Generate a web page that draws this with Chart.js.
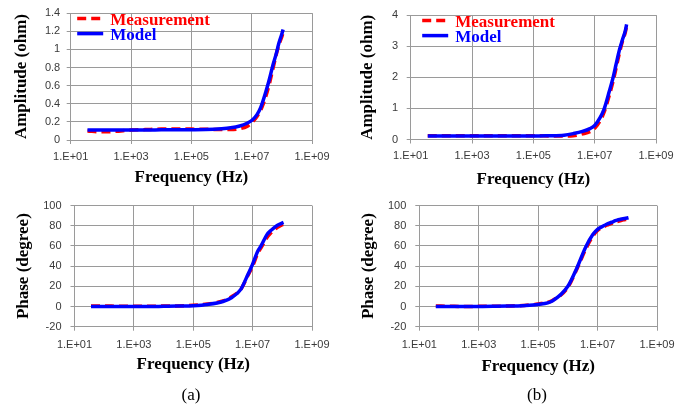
<!DOCTYPE html>
<html><head><meta charset="utf-8">
<script src="https://cdn.jsdelivr.net/npm/chart.js@4/dist/chart.umd.min.js"></script>
<style>
html,body{margin:0;padding:0;background:#fff;}
body{width:686px;height:408px;position:relative;overflow:hidden;}
canvas{position:absolute;display:block;}
.lab{position:absolute;font-family:'Liberation Serif','Times New Roman',serif;font-size:17px;color:#000;transform:translate(-50%,-50%);white-space:nowrap;}
</style></head><body>
<canvas id="c1" width="343" height="190" style="left:0;top:0;width:343px;height:190px"></canvas>
<canvas id="c2" width="343" height="190" style="left:343px;top:0;width:343px;height:190px"></canvas>
<canvas id="c3" width="343" height="218" style="left:0;top:190px;width:343px;height:218px"></canvas>
<canvas id="c4" width="343" height="218" style="left:343px;top:190px;width:343px;height:218px"></canvas>
<div class="lab" style="left:191px;top:395px">(a)</div>
<div class="lab" style="left:537px;top:395px">(b)</div>
<script>
// ---- data ----
const freq = [36,100,300,1e3,3e3,1e4,3e4,1e5,3e5,1e6,2e6,4e6,7e6,1e7,1.5e7,2e7,3e7,4e7,5e7,6.5e7,8e7,1e8,1.1e8];

const ampMeasA  = [0.10,0.09,0.095,0.11,0.115,0.12,0.12,0.12,0.118,0.115,0.115,0.125,0.15,0.19,0.26,0.33,0.49,0.64,0.78,0.94,1.05,1.14,1.19];
const ampModelA = [0.11,0.11,0.11,0.11,0.11,0.112,0.113,0.114,0.116,0.125,0.135,0.155,0.185,0.215,0.28,0.36,0.54,0.69,0.82,0.95,1.07,1.17,1.22];
const ampMeasB  = [0.12,0.12,0.12,0.12,0.12,0.12,0.12,0.12,0.115,0.11,0.12,0.18,0.25,0.36,0.6,0.86,1.42,1.88,2.3,2.8,3.15,3.45,3.65];
const ampModelB = [0.11,0.11,0.11,0.11,0.11,0.11,0.11,0.11,0.12,0.14,0.19,0.26,0.35,0.45,0.7,0.96,1.55,2.0,2.42,2.9,3.2,3.5,3.7];

const phaseMeasA  = [0.5,0.5,0.3,0.3,0.3,0.5,0.6,1.2,2.5,5.5,10,17,31,40,53,59,68,72.5,75,78,79.5,81,81.5];
const phaseModelA = [0,0,0,0,0,0.2,0.4,0.8,2,5,9,17,32,42,55,61,71,75,77.5,80,81.5,82.8,83.3];
const phaseMeasB  = [0.5,0.3,0,0.2,0.3,0.5,1,2.5,6,19,37,57,70,75.5,78.5,80.5,82.5,84,84.5,85.5,86,86.5,87];
const phaseModelB = [0,0,0,0.1,0.2,0.4,0.8,2,5.5,20,38,59,71.5,76.5,79.5,81.5,83.5,85,86,86.8,87.3,87.7,88];

const seriesNames = ['Measurement','Model'];

const xTickValues = [1e1,1e3,1e5,1e7,1e9];
const xTickLabels = ['1.E+01','1.E+03','1.E+05','1.E+07','1.E+09'];
const ampTicksA = [0,0.2,0.4,0.6,0.8,1,1.2,1.4];
const ampLabelsA = ['0','0.2','0.4','0.6','0.8','1','1.2','1.4'];
const ampTicksB = [0,1,2,3,4];
const ampLabelsB = ['0','1','2','3','4'];
const phaseTicks = [-20,0,20,40,60,80,100];
const phaseLabels = ['-20','0','20','40','60','80','100'];

const xTitle = 'Frequency (Hz)';
const ampTitle = 'Amplitude (ohm)';
const phaseTitle = 'Phase (degree)';

// ---- styling ----
const SERIF = "'Liberation Serif','Times New Roman',serif";
const GRID = '#9a9a9a';
const TICKCOL = '#3a3a3a';

const inlineLegend = {
  id: 'inlineLegend',
  afterDraw(chart, args, opts) {
    if (!opts || !opts.show) return;
    const ctx = chart.ctx, a = chart.chartArea;
    ctx.save();
    ctx.font = 'bold 17px ' + SERIF;
    ctx.textBaseline = 'middle';
    ctx.textAlign = 'left';
    chart.data.datasets.forEach((ds, i) => {
      const y = a.top + opts.top + i * opts.rowGap;
      const x = a.left + opts.left;
      ctx.strokeStyle = ds.borderColor;
      ctx.lineWidth = ds.borderWidth;
      ctx.setLineDash(ds.borderDash || []);
      ctx.beginPath(); ctx.moveTo(x, y); ctx.lineTo(x + opts.lineW, y); ctx.stroke();
      ctx.setLineDash([]);
      ctx.fillStyle = ds.borderColor;
      ctx.fillText(ds.label, x + opts.lineW + opts.gap, y + opts.textDy);
    });
    ctx.restore();
  }
};

function pts(vals){ return freq.map((f,i)=>({x:f, y:vals[i]})); }

function makeChart(id, meas, model, yTicks, yLabels, yTitle, L) {
  const canvas = document.getElementById(id);
  return new Chart(canvas, {
    type: 'line',
    data: {
      datasets: [
        { label: seriesNames[0], data: pts(meas), borderColor: '#ff0000', borderWidth: 3.5, borderDash: [9,5],
          pointRadius: 0, cubicInterpolationMode: 'monotone', order: 1, fill: false },
        { label: seriesNames[1], data: pts(model), borderColor: '#0000ff', borderWidth: 3.5,
          pointRadius: 0, cubicInterpolationMode: 'monotone', order: 0, fill: false }
      ]
    },
    options: {
      responsive: false, animation: false, devicePixelRatio: 1,
      layout: { padding: { left: 0, top: L.T, right: L.R, bottom: 0 } },
      plugins: {
        legend: { display: false }, tooltip: { enabled: false },
        inlineLegend: L.legend || { show: false }
      },
      scales: {
        x: {
          type: 'logarithmic', min: 1e1, max: 1e9,
          afterBuildTicks: s => { s.ticks = xTickValues.map(v => ({ value: v })); },
          afterFit: s => { s.height = L.xh; },
          ticks: { callback: (v, i) => xTickLabels[i], autoSkip: false, maxRotation: 0, padding: L.xtp,
                   color: TICKCOL, font: { family: "'Liberation Sans Narrow','Liberation Sans',Arial,sans-serif", size: 11 } },
          grid: { color: GRID, lineWidth: 1, tickLength: 4, drawTicks: true },
          border: { color: GRID, width: 1 },
          title: { display: true, text: xTitle, color: '#000', padding: { top: 0, bottom: L.xtb },
                   font: { family: SERIF, size: 17, weight: 'bold' } }
        },
        y: {
          type: 'linear', min: yTicks[0], max: yTicks[yTicks.length - 1],
          afterBuildTicks: s => { s.ticks = yTicks.map(v => ({ value: v })); },
          afterFit: s => { s.width = L.yw; },
          ticks: { callback: (v, i) => yLabels[i], padding: L.ytp, color: TICKCOL,
                   font: { family: "'Liberation Sans',Arial,sans-serif", size: 11 } },
          grid: { color: GRID, lineWidth: 1, tickLength: 4, drawTicks: true },
          border: { color: GRID, width: 1 },
          title: { display: true, text: yTitle, color: '#000', padding: { top: L.ytt, bottom: 0 },
                   font: { family: SERIF, size: 17, weight: 'bold' } }
        }
      }
    },
    plugins: [inlineLegend]
  });
}

const legendOpts = { show: true, left: 6.5, top: 5.5, rowGap: 15, lineW: 26, gap: 7, textDy: 2 };

makeChart('c1', ampMeasA, ampModelA, ampTicksA, ampLabelsA, ampTitle,
  { T: 12.3, R: 31, xh: 50, yw: 70.7, xtp: 6, xtb: 1.8, ytp: 6.5, ytt: 11.5, legend: legendOpts });
makeChart('c2', ampMeasB, ampModelB, ampTicksB, ampLabelsB, ampTitle,
  { T: 12.3, R: 30, xh: 50.5, yw: 67.7, xtp: 5.5, xtb: 0.5, ytp: 8.5, ytt: 14.8,
    legend: Object.assign({}, legendOpts, { left: 11.5 }) });
makeChart('c3', phaseMeasA, phaseModelA, phaseTicks, phaseLabels, phaseTitle,
  { T: 8.3, R: 31, xh: 81.3, yw: 74.5, xtp: 8, xtb: 32.8, ytp: 9, ytt: 13.1 });
makeChart('c4', phaseMeasB, phaseModelB, phaseTicks, phaseLabels, phaseTitle,
  { T: 8.3, R: 29, xh: 81.3, yw: 76.3, xtp: 8, xtb: 31.1, ytp: 9, ytt: 15.8 });
</script>
</body></html>
